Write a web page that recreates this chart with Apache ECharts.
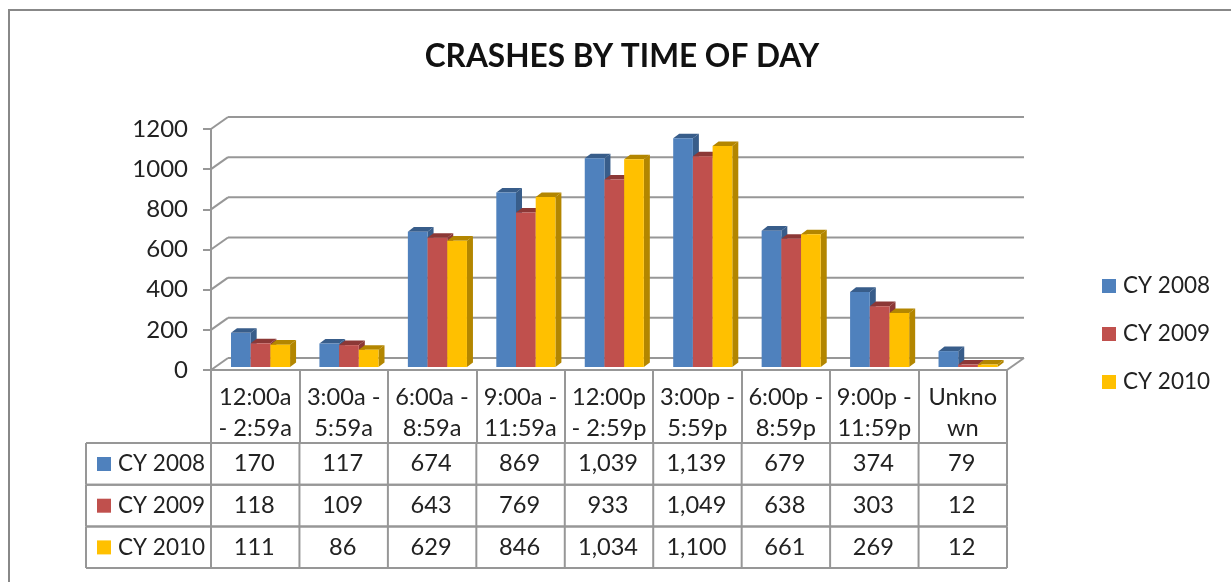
<!DOCTYPE html>
<html><head><meta charset="utf-8">
<style>html,body{margin:0;padding:0;background:#fff}#c{width:1231px;height:582px}</style>
<script src="https://cdn.jsdelivr.net/npm/echarts@6/dist/echarts.min.js"></script>
</head><body><div id="c"></div>
<script>
const categories = ['12:00a\n- 2:59a','3:00a -\n5:59a','6:00a -\n8:59a','9:00a -\n11:59a','12:00p\n- 2:59p','3:00p -\n5:59p','6:00p -\n8:59p','9:00p -\n11:59p','Unkno\nwn'];
const cy2008 = [170,117,674,869,1039,1139,679,374,79];
const cy2009 = [118,109,643,769,933,1049,638,303,12];
const cy2010 = [111,86,629,846,1034,1100,661,269,12];
const seriesNames = ['CY 2008','CY 2009','CY 2010'];
const yTicks = [0,200,400,600,800,1000,1200];

const front = ['#4F81BD','#C0504D','#FFC000'];
const dark = ['#385D8A','#8C3836','#B38600'];
const LINE = '#979797', FONT = 'Lato', INK = '#222';
const DX = 17, DY = 12;           // wall depth
const ROW_H = 41.7, HEAD_H = 73, TABLE_LEFT = 86;

const all = [cy2008,cy2009,cy2010];
const fmt = v => v.toLocaleString('en-US');

function barSeries(s){
  return {
    name: seriesNames[s], type:'custom', z:5,
    itemStyle:{color:front[s]},
    data: all[s].map((v,i)=>[i,v]),
    renderItem(params, api){
      const i = api.value(0), v = api.value(1);
      const band = api.size([1,0])[0], w = band*0.2227, d = 6, h = 4.6;
      const p = api.coord([i,v]), b = api.coord([i,0]);
      const x = p[0]+5.3+(s-1.5)*w, t = p[1]-3, y0 = b[1]-3;
      return {type:'group',children:[
        {type:'polygon',shape:{points:[[x,t],[x+d,t-h],[x+w+d,t-h],[x+w,t]]},style:{fill:dark[s]}},
        {type:'polygon',shape:{points:[[x+w,t],[x+w+d,t-h],[x+w+d,y0-h],[x+w,y0]]},style:{fill:dark[s]}},
        {type:'rect',shape:{x:x,y:t,width:w,height:y0-t},style:{fill:front[s]}}
      ]};
    }
  };
}
const line = (x1,y1,x2,y2)=>({type:'line',shape:{x1,y1,x2,y2},style:{stroke:LINE,lineWidth:2}});

const wallSeries = {
  type:'custom', z:1, silent:true, data: yTicks.map(v=>[0,v]),
  renderItem(params, api){
    const c = params.coordSys, y = api.coord([0,api.value(1)])[1];
    const ch = [line(c.x,y,c.x+DX,y-DY), line(c.x+DX,y-DY,c.x+c.width+DX,y-DY)];
    if(api.value(1)===0) ch.push(line(c.x+c.width,y,c.x+c.width+DX,y-DY));
    return {type:'group',children:ch};
  }
};
const tableRows = {
  type:'custom', z:2, silent:true, data: seriesNames.map((n,r)=>[0,r]),
  renderItem(params, api){
    const c = params.coordSys, r = api.value(1), base = c.y+c.height+HEAD_H;
    const y = base+ROW_H*r, ch = [
      line(TABLE_LEFT,y,c.x+c.width,y),
      line(TABLE_LEFT,y+ROW_H,c.x+c.width,y+ROW_H),
      {type:'rect',shape:{x:97,y:y+14,width:14,height:14},style:{fill:front[r]}},
      {type:'text',style:{text:seriesNames[r],x:118,y:y+ROW_H/2,fill:INK,font:'22.5px '+FONT,align:'left',verticalAlign:'middle'}}
    ];
    ch.push(line(TABLE_LEFT,y,TABLE_LEFT,y+ROW_H));
    for(let i=0;i<=categories.length;i++){
      const x = c.x+c.width*i/categories.length;
      ch.push(line(x,y,x,y+ROW_H));
      if(i<categories.length) ch.push({type:'text',style:{text:fmt(all[r][i]),x:x+c.width/categories.length/2-1,y:y+ROW_H/2,fill:INK,font:'23.6px '+FONT,align:'center',verticalAlign:'middle'}});
    }
    return {type:'group',children:ch};
  }
};

const chart = echarts.init(document.getElementById('c'));
chart.setOption({
  animation:false, backgroundColor:'#fff',
  title:{text:'CRASHES BY TIME OF DAY',left:617,top:36,textAlign:'center',
    textStyle:{fontFamily:FONT,fontWeight:'bold',fontSize:31.6,color:'#111'}},
  legend:{orient:'vertical',left:1102,top:272,padding:0,data:seriesNames,icon:'rect',itemWidth:14,itemHeight:14,itemGap:20,selectedMode:false,
    textStyle:{fontFamily:FONT,fontSize:22.5,color:INK,padding:[0,0,0,2],lineHeight:28}},
  grid:{left:211,top:129,width:796,height:241},
  xAxis:{type:'category',data:categories,
    axisLine:{lineStyle:{color:LINE,width:2}},
    axisTick:{show:true,alignWithLabel:false,length:HEAD_H,lineStyle:{color:LINE,width:2}},
    axisLabel:{fontFamily:FONT,fontSize:23.6,color:INK,lineHeight:31,margin:12,interval:0}},
  yAxis:{type:'value',min:0,max:1200,interval:200,
    axisLine:{show:true,lineStyle:{color:LINE,width:2}},
    axisTick:{show:true,length:8,lineStyle:{color:LINE,width:2}},
    splitLine:{show:false},
    axisLabel:{fontFamily:FONT,fontSize:24,color:INK,margin:23,padding:[7,0,0,0],formatter:v=>String(v)}},
  graphic:[{type:'rect',z:-1,shape:{x:9,y:10,width:1300,height:700},style:{fill:'none',stroke:'#888',lineWidth:2}}],
  series:[wallSeries,tableRows,barSeries(0),barSeries(1),barSeries(2)]
});
</script></body></html>
